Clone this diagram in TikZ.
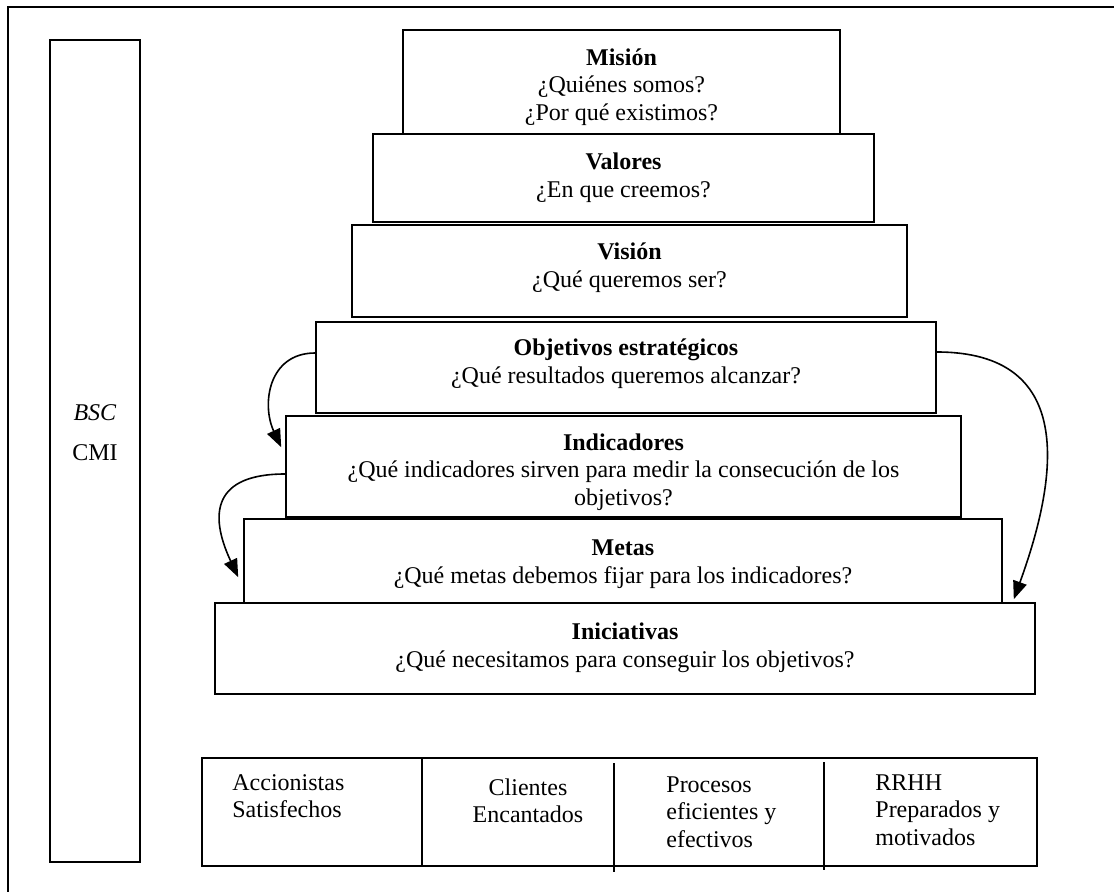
\documentclass[tikz,border=0pt]{standalone}
\usepackage{fontspec}
\setmainfont{Liberation Serif}
\usetikzlibrary{arrows.meta,calc}
\begin{document}
\begin{tikzpicture}[x=0.5pt,y=-0.5pt,
  font=\fontsize{12pt}{13.8pt}\selectfont,
  box/.style={draw=black,line width=0.8pt,rectangle,inner sep=0pt},
  txt/.style={align=center,inner sep=0pt},
  ltxt/.style={align=left,inner sep=0pt,anchor=north west},
  link/.style={line width=0.8pt,-{Triangle[length=9pt,width=7pt]}}]
\useasboundingbox (0,0) rectangle (1114,892);
% outer frame, running off the page at right and bottom
\begin{scope}
\clip (0,0) rectangle (1114,892);
\draw[line width=0.8pt] (8,7) rectangle (1140,920);
\end{scope}

% left column
\node[box,minimum width=45pt,minimum height=411pt] (col) at (95,451) {};
\node[txt] (bsc) at (95,413) {\textit{BSC}};
\node[txt] (cmi) at (95,453) {CMI};

% pyramid levels
\node[box,minimum width=218.5pt,minimum height=52pt]  (mis) at (621.5,82) {};
\node[box,minimum width=250.5pt,minimum height=44pt]  (val) at (623.5,178) {};
\node[box,minimum width=277.5pt,minimum height=46pt]  (vis) at (629.5,271) {};
\node[box,minimum width=310pt,minimum height=45.5pt]  (obj) at (626,367.5) {};
\node[box,minimum width=337.5pt,minimum height=50.5pt](ind) at (623.5,466.5) {};
\node[box,minimum width=379pt,minimum height=42pt]    (met) at (623,561) {};
\node[box,minimum width=410pt,minimum height=45.5pt]  (ini) at (625,648.5) {};

\node[txt] (misT) at (621.5,87) {\textbf{Misión}\\¿Quiénes somos?\\¿Por qué existimos?};
\node[txt] (valT) at (623.5,178) {\textbf{Valores}\\¿En que creemos?};
\node[txt] (visT) at (629.5,268) {\textbf{Visión}\\¿Qué queremos ser?};
\node[txt] (objT) at (626,364) {\textbf{Objetivos estratégicos}\\¿Qué resultados queremos alcanzar?};
\node[txt] (indT) at (623.5,472) {\textbf{Indicadores}\\¿Qué indicadores sirven para medir la consecución de los\\objetivos?};
\node[txt] (metT) at (623,564) {\textbf{Metas}\\¿Qué metas debemos fijar para los indicadores?};
\node[txt] (iniT) at (625,648) {\textbf{Iniciativas}\\¿Qué necesitamos para conseguir los objetivos?};

% cascade arrows
\draw[link] ([yshift=7.25pt]obj.west) to[out=180,in=115,looseness=1.2] ([xshift=-2pt,yshift=-16pt]ind.north west);
\draw[link] ([yshift=-3.75pt]ind.west) to[out=180,in=115,looseness=1.6] ([xshift=-2.5pt,yshift=-29.5pt]met.north west);
\draw[link] ([yshift=7.75pt]obj.east) to[out=0,in=70,looseness=1.35] ([xshift=-11pt,yshift=1.5pt]ini.north east);

% perspectives table
\node[box,minimum width=417.5pt,minimum height=54pt] (tab) at (619.5,812) {};
\coordinate (d1a) at (422,758); \coordinate (d1b) at (422,866);
\coordinate (d2a) at (614,763); \coordinate (d2b) at (614,872);
\coordinate (d3a) at (824,762); \coordinate (d3b) at (824,870);
\draw[line width=0.8pt] (d1a) -- (d1b);
\draw[line width=0.8pt] (d2a) -- (d2b);
\draw[line width=0.8pt] (d3a) -- (d3b);

\node[ltxt] (acc) at (232,774) {Accionistas\\Satisfechos};
\node[txt,anchor=north] (cli) at (528,778) {Clientes\\Encantados};
\node[ltxt] (pro) at (666,776) {Procesos\\eficientes y\\efectivos};
\node[ltxt] (rrh) at (875,774) {RRHH\\Preparados y\\motivados};
\end{tikzpicture}
\end{document}
